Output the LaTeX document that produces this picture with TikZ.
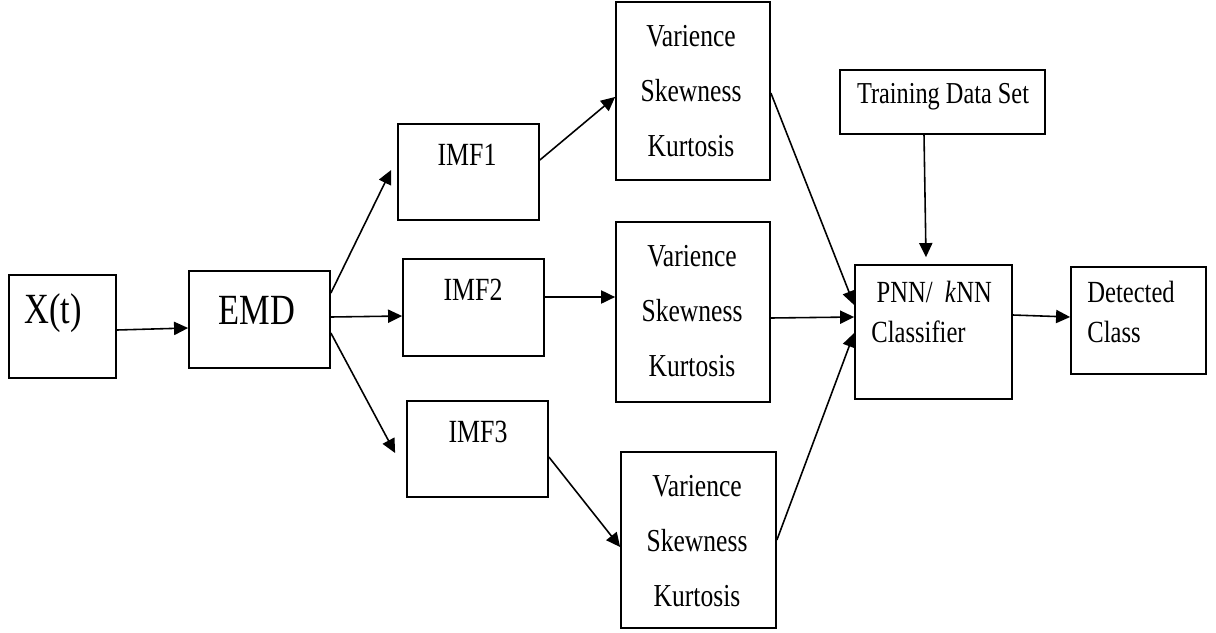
\documentclass[tikz,border=0pt]{standalone}
\usepackage{fontspec}
\setmainfont[FakeStretch=0.8]{Liberation Serif}
\usetikzlibrary{arrows.meta}
\begin{document}
\begin{tikzpicture}[x=0.02cm,y=-0.02cm,
  box/.style={draw,line width=1pt,inner sep=0pt},
  lbl/.style={inner sep=0pt,align=center},
  conn/.style={line width=0.9pt,-{Triangle[length=8pt,width=7.5pt]}}]
\useasboundingbox (0,0) rectangle (1216,632);
% boxes
\node[box,minimum width=107*0.02cm,minimum height=103*0.02cm] (xt) at (62.5,326.5) {};
\node[box,minimum width=141*0.02cm,minimum height=97*0.02cm] (emd) at (259.5,319.5) {};
\node[box,minimum width=141*0.02cm,minimum height=96*0.02cm] (imf1) at (468.5,172) {};
\node[box,minimum width=141*0.02cm,minimum height=97*0.02cm] (imf2) at (473.5,307.5) {};
\node[box,minimum width=141*0.02cm,minimum height=96*0.02cm] (imf3) at (477.5,449) {};
\node[box,minimum width=154*0.02cm,minimum height=178*0.02cm] (s1) at (693,91) {};
\node[box,minimum width=154*0.02cm,minimum height=180*0.02cm] (s2) at (693,312) {};
\node[box,minimum width=155*0.02cm,minimum height=176*0.02cm] (s3) at (698.5,540) {};
\node[box,minimum width=205*0.02cm,minimum height=64*0.02cm] (train) at (942.5,102) {};
\node[box,minimum width=157*0.02cm,minimum height=134*0.02cm] (pnn) at (933.5,332) {};
\node[box,minimum width=135*0.02cm,minimum height=107*0.02cm] (det) at (1138.5,320.5) {};
% texts
\node[lbl,font=\fontsize{24.5}{28}\selectfont] (xtt) at (53,313) {X(t)};
\node[lbl,font=\fontsize{24.5}{28}\selectfont] (emdt) at (257,310) {EMD};
\node[lbl,font=\fontsize{18.4}{22}\selectfont] (imf1t) at (467,155) {IMF1};
\node[lbl,font=\fontsize{18.4}{22}\selectfont] (imf2t) at (473,290) {IMF2};
\node[lbl,font=\fontsize{18.4}{22}\selectfont] (imf3t) at (478,432) {IMF3};
\node[lbl,font=\fontsize{18.2}{31.2}\selectfont] (s1t) at (691,91) {Varience\\Skewness\\Kurtosis};
\node[lbl,font=\fontsize{18.2}{31.2}\selectfont] (s2t) at (692,311) {Varience\\Skewness\\Kurtosis};
\node[lbl,font=\fontsize{18.2}{31.2}\selectfont] (s3t) at (697,541) {Varience\\Skewness\\Kurtosis};
\node[lbl,font=\fontsize{17.3}{21}\selectfont] (traint) at (943,97) {Training Data Set};
\node[lbl,align=left,anchor=west,font=\fontsize{17.5}{22.7}\selectfont] (pnnt) at (871,312) {\hspace*{3pt}PNN/\ \ \textit{k}NN\\Classifier};
\node[lbl,align=left,anchor=west,font=\fontsize{17.5}{22.7}\selectfont] (dett) at (1087,312) {Detected\\Class};
% connectors
\draw[conn] ([yshift=-0.07cm]xt.east) -- ([yshift=-0.17cm]emd.west);
\draw[conn] ([yshift=0.53cm]emd.east) -- ([xshift=-0.12cm,yshift=0.04cm]imf1.west);
\draw[conn] ([yshift=0.05cm]emd.east) -- ([yshift=-0.17cm]imf2.west);
\draw[conn] ([yshift=-0.27cm]emd.east) -- ([xshift=-0.22cm,yshift=-0.08cm]imf3.west);
\draw[conn] ([yshift=0.24cm]imf1.east) -- ([yshift=-0.12cm]s1.west);
\draw[conn] ([yshift=0.21cm]imf2.east) -- ([yshift=0.3cm]s2.west);
\draw[conn] ([yshift=-0.16cm]imf3.east) -- ([yshift=-0.14cm]s3.west);
\draw[conn] ([yshift=-0.04cm]s1.east) -- ([yshift=0.54cm]pnn.west);
\draw[conn] ([yshift=-0.12cm]s2.east) -- ([yshift=0.3cm]pnn.west);
\draw[conn] (s3.east) -- ([yshift=-0.02cm]pnn.west);
\draw[conn] ([xshift=-0.37cm]train.south) -- ([xshift=-0.15cm,yshift=0.14cm]pnn.north);
\draw[conn] ([yshift=0.34cm]pnn.east) -- ([yshift=0.07cm]det.west);
\end{tikzpicture}
\end{document}
